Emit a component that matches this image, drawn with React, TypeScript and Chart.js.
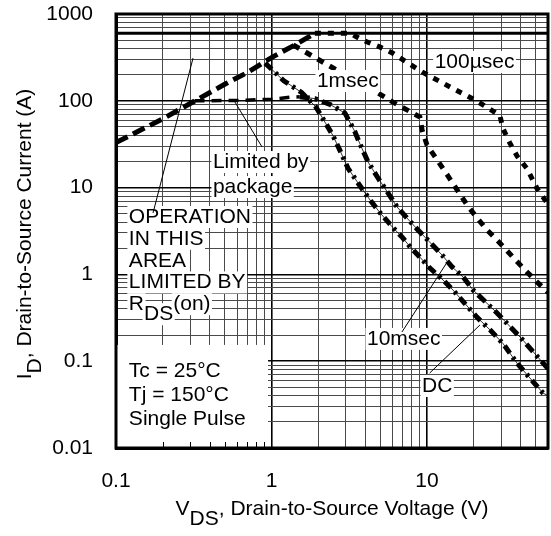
import React, { useEffect, useRef } from 'react';
import { Chart, registerables } from 'chart.js';

Chart.register(...registerables);

// ---- axis ranges & tick labels ----
const X_MIN = 0.1;
const X_MAX = 60;
const Y_MIN = 0.01;
const Y_MAX = 1000;
const X_TICK_VALUES = [0.1, 1, 10];
const X_TICK_LABELS = ['0.1', '1', '10'];
const Y_TICK_VALUES = [0.01, 0.1, 1, 10, 100, 1000];
const Y_TICK_LABELS = ['0.01', '0.1', '1', '10', '100', '1000'];

// ---- series (V_DS in volts, I_D in amps) ----
// R_DS(on) limit line
const RDS_V = [0.1, 0.2, 0.3, 0.5, 0.7, 1.0, 1.4, 1.9];
const RDS_I = [33, 62, 93, 155, 212, 315, 435, 600];
// package limit
const PKG_V = [0.32, 0.6, 1.0, 1.32, 1.52];
const PKG_I = [100, 101, 104, 110, 111];
// 600 A line
const LIMIT_V = [0.1, 60];
const LIMIT_I = [600, 600];
// 100 µsec
const US100_V = [1.9, 3.2, 3.7, 4.2, 5.0, 6.0, 9.3, 14.1, 20.4, 29.4, 30.8, 34, 38, 44, 51, 57.4, 60];
const US100_I = [600, 600, 520, 470, 415, 355, 215, 144, 102, 68, 48, 33, 23, 16.5, 9.8, 7.2, 6.5];
// 1 msec
const MS1_V = [1.38, 1.9, 3.0, 4.84, 6.0, 9.0, 9.3, 10, 13.5, 18.1, 21, 24.3, 29.4, 35.7, 41.4, 50.9, 60];
const MS1_I = [440, 315, 197, 123, 97, 65, 46, 31, 14, 6.3, 4.47, 3.25, 2.3, 1.58, 1.19, 0.82, 0.62];
// 10 msec
const MS10_V = [1.52, 1.9, 2.4, 2.97, 3.44, 3.7, 4.18, 4.84, 5.61, 6.41, 7.43, 8.75, 10.1, 12.5, 14.5, 17.1, 19.8, 28.2, 41.4, 60];
const MS10_I = [111, 106, 90, 72, 44, 32, 19.7, 12.9, 8.7, 6.0, 4.46, 3.25, 2.49, 1.67, 1.22, 0.93, 0.66, 0.36, 0.175, 0.082];
// DC
const DC_V = [0.91, 1.2, 1.56, 1.93, 2.48, 2.75, 3.1, 3.6, 4.3, 5.0, 6.0, 6.9, 7.8, 9.0, 10.4, 12.7, 14.7, 21, 25.4, 30.8, 37.9, 55.7, 60];
const DC_I = [272, 170, 125, 85, 40, 27, 16.8, 11.3, 7.2, 5.1, 3.5, 2.7, 2.07, 1.58, 1.19, 0.86, 0.66, 0.32, 0.23, 0.16, 0.095, 0.043, 0.04];

// ---- annotations (anchors in data units) ----
type Run = { t: string; sub?: boolean };
type Note = { lines: Run[][]; v: number; i: number; step?: number; noBox?: boolean };
const NOTES: Note[] = [
  {
    lines: [
      [{ t: 'OPERATION' }],
      [{ t: 'IN THIS' }],
      [{ t: 'AREA' }],
      [{ t: 'LIMITED BY' }],
      [{ t: 'R' }, { t: 'DS', sub: true }, { t: '(on)' }],
    ],
    v: 0.121, i: 3.91, step: 21.8,
  },
  { lines: [[{ t: 'Limited by' }], [{ t: 'package' }]], v: 0.42, i: 16.8, step: 25 },
  { lines: [[{ t: '1msec' }]], v: 1.96, i: 144 },
  { lines: [[{ t: '100µsec' }]], v: 11.2, i: 239 },
  { lines: [[{ t: '10msec' }]], v: 4.11, i: 0.154 },
  { lines: [[{ t: 'DC' }]], v: 9.29, i: 0.0442 },
  {
    lines: [[{ t: 'Tc = 25°C' }], [{ t: 'Tj = 150°C' }], [{ t: 'Single Pulse' }]],
    v: 0.121, i: 0.0658, step: 24, noBox: true,
  },
];
const TC_BOX = { v0: 0.1, v1: 0.95, i0: 0.01, i1: 0.154 };
const LEADERS = [
  [0.173, 5.1, 0.313, 311],
  [0.869, 29.4, 0.582, 96.8],
  [6.9, 0.217, 13.5, 1.39],
  [10.4, 0.073, 21.9, 0.261],
];

const FONT = '"Liberation Sans", Arial, Helvetica, sans-serif';
const FS = 21;

function logGrid(min: number, max: number): number[] {
  const out: number[] = [];
  for (let e = Math.floor(Math.log10(min)); e <= Math.ceil(Math.log10(max)); e++) {
    for (let m = 1; m <= 9; m++) {
      const v = parseFloat((m * Math.pow(10, e)).toPrecision(6));
      if (v >= min * 0.9999 && v <= max * 1.0001) out.push(v);
    }
  }
  return out;
}
const X_GRID = logGrid(X_MIN, X_MAX);
const Y_GRID = logGrid(Y_MIN, Y_MAX);

const isDecade = (v: number) => Math.abs(Math.log10(v) - Math.round(Math.log10(v))) < 1e-6;
const labelFor = (v: number, vals: number[], labels: string[]) => {
  const k = vals.findIndex((t) => Math.abs(Math.log10(t) - Math.log10(v)) < 1e-6);
  return k >= 0 ? labels[k] : '';
};

const series = (V: number[], I: number[], opts: any) => ({
  data: V.map((v, k) => ({ x: v, y: I[k] })),
  borderColor: '#000',
  backgroundColor: '#000',
  pointRadius: 0,
  fill: false,
  tension: 0,
  ...opts,
});

function drawRuns(ctx: CanvasRenderingContext2D, runs: { t: string; sub?: boolean }[], x: number, y: number) {
  let cx = x;
  for (const r of runs) {
    ctx.fillText(r.t, cx, y + (r.sub ? 10 : 0));
    cx += ctx.measureText(r.t).width;
  }
  return cx - x;
}

const zeroPadding = (s: any) => {
  s.paddingLeft = 0;
  s.paddingRight = 0;
  s.paddingTop = 0;
  s.paddingBottom = 0;
};

const overlay = {
  id: 'overlay',
  afterDatasetsDraw(chart: any) {
    const { ctx, chartArea: a, scales } = chart;
    const xs = scales.x;
    const ys = scales.y;
    const px = (v: number) => xs.getPixelForValue(v);
    const py = (i: number) => ys.getPixelForValue(i);
    ctx.save();
    ctx.beginPath();
    ctx.rect(a.left, a.top, a.right - a.left, a.bottom - a.top);
    ctx.clip();

    // conditions box
    ctx.fillStyle = '#fff';
    const bx0 = px(TC_BOX.v0), bx1 = px(TC_BOX.v1), by0 = py(TC_BOX.i1), by1 = py(TC_BOX.i0);
    ctx.fillRect(bx0, by0, bx1 - bx0, by1 - by0);
    ctx.strokeStyle = '#000';
    ctx.lineWidth = 1;
    for (const v of X_GRID) {
      if (v > TC_BOX.v0 && v < TC_BOX.v1) {
        const xx = Math.round(px(v)) + 0.5;
        ctx.beginPath();
        ctx.moveTo(xx, a.bottom);
        ctx.lineTo(xx, a.bottom - 6);
        ctx.stroke();
      }
    }

    ctx.font = `${FS}px ${FONT}`;
    ctx.textBaseline = 'alphabetic';
    ctx.textAlign = 'left';
    // text background boxes
    ctx.fillStyle = '#fff';
    for (const n of NOTES) {
      if (n.noBox) continue;
      const x0 = px(n.v);
      const b0 = py(n.i);
      n.lines.forEach((line, j) => {
        const b = b0 + j * (n.step || 0);
        let cx = x0;
        for (const r of line) {
          const w = ctx.measureText(r.t).width;
          const yy = b + (r.sub ? 10 : 0);
          ctx.fillRect(cx - 1.5, yy - 17, w + 3, 22);
          cx += w;
        }
      });
    }
    // texts
    ctx.fillStyle = '#000';
    for (const n of NOTES) {
      const x0 = px(n.v);
      const b0 = py(n.i);
      n.lines.forEach((line, j) => drawRuns(ctx, line, x0, b0 + j * (n.step || 0)));
    }
    // leader lines
    ctx.strokeStyle = '#000';
    ctx.lineWidth = 1;
    for (const [v0, i0, v1, i1] of LEADERS) {
      ctx.beginPath();
      ctx.moveTo(px(v0), py(i0));
      ctx.lineTo(px(v1), py(i1));
      ctx.stroke();
    }
    ctx.restore();

    // frame
    ctx.save();
    ctx.strokeStyle = '#000';
    ctx.lineWidth = 3;
    ctx.strokeRect(a.left, a.top, a.right - a.left, a.bottom - a.top);
    ctx.restore();
  },
  afterDraw(chart: any) {
    const { ctx, chartArea: a } = chart;
    ctx.save();
    ctx.font = `${FS}px ${FONT}`;
    ctx.fillStyle = '#000';
    ctx.textBaseline = 'alphabetic';
    ctx.textAlign = 'left';
    // x title
    const xr = [{ t: 'V' }, { t: 'DS', sub: true }, { t: ', Drain-to-Source Voltage (V)' }];
    const xw = xr.reduce((s, r) => s + ctx.measureText(r.t).width, 0);
    drawRuns(ctx, xr, (a.left + a.right) / 2 - xw / 2, 515);
    // y title
    const yr = [{ t: 'I' }, { t: 'D', sub: true }, { t: ', Drain-to-Source Current (A)' }];
    const yw = yr.reduce((s, r) => s + ctx.measureText(r.t).width, 0);
    ctx.translate(31, (a.top + a.bottom) / 2 + 3);
    ctx.rotate(-Math.PI / 2);
    drawRuns(ctx, yr, -yw / 2, 0);
    ctx.restore();
  },
};

export default function App() {
  const ref = useRef<HTMLCanvasElement | null>(null);
  useEffect(() => {
    if (!ref.current) return;
    const gridColor = (c: any) => (c.tick && isDecade(c.tick.value) ? '#000' : '#4a4a4a');
    const gridWidth = (c: any) => (c.tick && isDecade(c.tick.value) ? 1.6 : 1);
    const chart = new Chart(ref.current, {
      type: 'line',
      data: {
        datasets: [
          series(RDS_V, RDS_I, { borderWidth: 5, borderDash: [13, 6] }),
          series(PKG_V, PKG_I, { borderWidth: 3.5, borderDash: [10, 7] }),
          series(US100_V, US100_I, { borderWidth: 5, borderDash: [6, 7] }),
          series(MS1_V, MS1_I, { borderWidth: 5, borderDash: [7, 7] }),
          series(MS10_V, MS10_I, { borderWidth: 5, borderDash: [10, 5, 3, 5] }),
          series(MS10_V, MS10_I, { borderWidth: 0.8 }),
          series(DC_V, DC_I, { borderWidth: 5, borderDash: [9, 5, 3, 5] }),
          series(DC_V, DC_I, { borderWidth: 0.8 }),
          series(LIMIT_V, LIMIT_I, { borderWidth: 3 }),
        ],
      },
      options: {
        animation: false,
        responsive: true,
        maintainAspectRatio: false,
        layout: { padding: { left: 0, right: 3, top: 14, bottom: 0 } },
        plugins: { legend: { display: false }, tooltip: { enabled: false }, title: { display: false } },
        scales: {
          x: {
            type: 'logarithmic',
            min: X_MIN,
            max: X_MAX,
            afterBuildTicks: (s: any) => {
              s.ticks = X_GRID.map((v) => ({ value: v }));
            },
            afterFit: (s: any) => {
              s.height = 88;
              zeroPadding(s);
            },
            grid: { drawTicks: false, color: gridColor, lineWidth: gridWidth },
            border: { display: true, width: 3, color: '#000' },
            ticks: {
              autoSkip: false,
              maxRotation: 0,
              minRotation: 0,
              padding: 21,
              color: '#000',
              font: { family: FONT, size: FS },
              callback: (v: any) => labelFor(Number(v), X_TICK_VALUES, X_TICK_LABELS),
            },
          },
          y: {
            type: 'logarithmic',
            min: Y_MIN,
            max: Y_MAX,
            afterBuildTicks: (s: any) => {
              s.ticks = Y_GRID.map((v) => ({ value: v }));
            },
            afterFit: (s: any) => {
              s.width = 116;
              zeroPadding(s);
            },
            grid: { drawTicks: false, color: gridColor, lineWidth: gridWidth },
            border: { display: true, width: 3, color: '#000' },
            ticks: {
              autoSkip: false,
              padding: 23,
              color: '#000',
              font: { family: FONT, size: FS },
              callback: (v: any) => labelFor(Number(v), Y_TICK_VALUES, Y_TICK_LABELS),
            },
          },
        },
      },
      plugins: [overlay],
    } as any);
    return () => chart.destroy();
  }, []);
  return (
    <div style={{ position: 'fixed', left: 0, top: 0, width: 551, height: 536, background: '#fff' }}>
      <canvas ref={ref} />
    </div>
  );
}
